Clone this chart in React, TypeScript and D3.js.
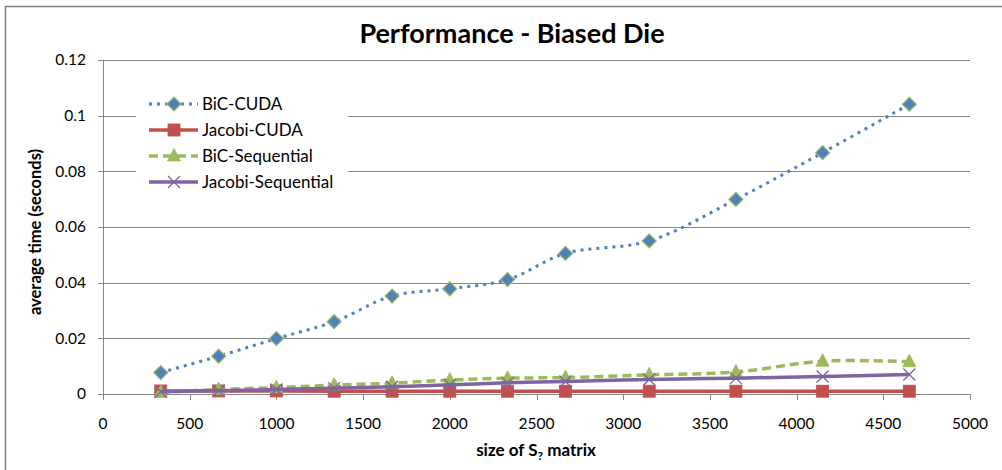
import React from "react";
import * as d3 from "d3";

const sizes = [333, 667, 1000, 1333, 1667, 2000, 2333, 2667, 3150, 3650, 4150, 4650];
const bicCuda = [0.0077, 0.0136, 0.0199, 0.026, 0.0352, 0.0378, 0.0411, 0.0505, 0.055, 0.0699, 0.0867, 0.1041];
const jacobiCuda = [0.0011, 0.0011, 0.0011, 0.001, 0.001, 0.001, 0.001, 0.001, 0.001, 0.001, 0.001, 0.001];
const bicSeq = [0.0006, 0.0016, 0.0023, 0.0032, 0.0039, 0.005, 0.0057, 0.0059, 0.0069, 0.0079, 0.0118, 0.0116];
const jacobiSeq = [0.0008, 0.0012, 0.0016, 0.0021, 0.0026, 0.0033, 0.004, 0.0045, 0.0052, 0.0057, 0.0063, 0.007];
const xTicks = [0, 500, 1000, 1500, 2000, 2500, 3000, 3500, 4000, 4500, 5000];
const yTicks = [0, 0.02, 0.04, 0.06, 0.08, 0.1, 0.12];
const seriesNames = ["BiC-CUDA", "Jacobi-CUDA", "BiC-Sequential", "Jacobi-Sequential"];

const FONT = "Lato, 'Open Sans', sans-serif";
const GRID = "#888888";

type Pt = [number, number];

export default function App() {
  const x = d3.scaleLinear().domain([0, 5000]).range([103, 970]);
  const y = d3.scaleLinear().domain([0, 0.12]).range([394, 60]);

  const smooth = d3.line<Pt>().x((d) => x(d[0])).y((d) => y(d[1])).curve(d3.curveCatmullRom.alpha(0.5));
  const straight = d3.line<Pt>().x((d) => x(d[0])).y((d) => y(d[1]));

  const pts = (vals: number[]): Pt[] => sizes.map((s, i) => [s, vals[i]] as Pt);

  const diamond = (cx: number, cy: number, key: string) => (
    <path key={key} d={`M${cx},${cy - 7}L${cx + 7},${cy}L${cx},${cy + 7}L${cx - 7},${cy}Z`} fill="#4F81BD" stroke="#9BBB59" strokeWidth={1.2} />
  );
  const square = (cx: number, cy: number, key: string) => (
    <rect key={key} x={cx - 6} y={cy - 6} width={12} height={12} fill="#C0504D" stroke="#C0504D" strokeWidth={0.8} />
  );
  const triangle = (cx: number, cy: number, key: string) => (
    <path key={key} d={`M${cx},${cy - 7.5}L${cx + 6.5},${cy + 5}L${cx - 6.5},${cy + 5}Z`} fill="#9BBB59" stroke="#9BBB59" strokeWidth={0.8} />
  );
  const cross = (cx: number, cy: number, key: string) => (
    <path key={key} d={`M${cx - 6},${cy - 6}L${cx + 6},${cy + 6}M${cx - 6},${cy + 6}L${cx + 6},${cy - 6}`} stroke="#8064A2" strokeWidth={1.3} fill="none" />
  );

  const legendRows = [
    { name: seriesNames[0], stroke: "#4F81BD", dash: "3,5", width: 3, marker: diamond },
    { name: seriesNames[1], stroke: "#C0504D", dash: undefined, width: 3.5, marker: square },
    { name: seriesNames[2], stroke: "#9BBB59", dash: "9,5", width: 3.5, marker: triangle },
    { name: seriesNames[3], stroke: "#8064A2", dash: undefined, width: 3.5, marker: cross },
  ];

  return (
    <svg width={1002} height={470} style={{ position: "absolute", left: 0, top: 0, background: "#fff" }} fontFamily={FONT}>
      <rect x={0} y={0} width={1002} height={470} fill="#fff" />
      <rect x={5.5} y={6.5} width={1100} height={600} fill="#fff" stroke="#7f7f7f" strokeWidth={1.5} />

      {/* gridlines */}
      {yTicks.map((t) => (
        <g key={"g" + t}>
          <line x1={x(0)} x2={x(5000)} y1={Math.round(y(t)) + 0.5} y2={Math.round(y(t)) + 0.5} stroke={GRID} strokeWidth={1} />
          <line x1={x(0) - 5} x2={x(0)} y1={Math.round(y(t)) + 0.5} y2={Math.round(y(t)) + 0.5} stroke={GRID} strokeWidth={1} />
          <text x={86} y={y(t)} dy="0.35em" textAnchor="end" fontSize={15.5} fill="#000">{t}</text>
        </g>
      ))}
      <line x1={Math.round(x(0)) + 0.5} x2={Math.round(x(0)) + 0.5} y1={y(0.12)} y2={y(0)} stroke={GRID} strokeWidth={1} />
      {xTicks.map((t) => (
        <g key={"x" + t}>
          <line x1={Math.round(x(t)) + 0.5} x2={Math.round(x(t)) + 0.5} y1={y(0)} y2={y(0) + 6} stroke={GRID} strokeWidth={1} />
          <text x={x(t)} y={429} textAnchor="middle" fontSize={15.5} fill="#000">{t}</text>
        </g>
      ))}

      {/* axis titles */}
      <text x={512} y={43} textAnchor="middle" fontSize={27} fontWeight="bold" fill="#000">Performance - Biased Die</text>
      <text transform={`translate(41,232) rotate(-90)`} textAnchor="middle" fontSize={16.5} fontWeight="bold" fill="#000">average time (seconds)</text>
      <text x={536} y={456} textAnchor="middle" fontSize={17} fontWeight="bold" fill="#000">
        size of S<tspan fontSize={12} dy={4}>?</tspan><tspan dy={-4}> matrix</tspan>
      </text>

      {/* legend background */}
      <rect x={136} y={90} width={212} height={108} fill="#fff" />

      {/* series */}
      <path d={smooth(pts(bicCuda)) || ""} fill="none" stroke="#4F81BD" strokeWidth={3} strokeDasharray="3,5" />
      {pts(bicCuda).map((p, i) => diamond(x(p[0]), y(p[1]), "d" + i))}
      <path d={straight(pts(jacobiCuda)) || ""} fill="none" stroke="#C0504D" strokeWidth={3.5} />
      {pts(jacobiCuda).map((p, i) => square(x(p[0]), y(p[1]), "s" + i))}
      <path d={smooth(pts(bicSeq)) || ""} fill="none" stroke="#9BBB59" strokeWidth={3.5} strokeDasharray="9,5" />
      {pts(bicSeq).map((p, i) => triangle(x(p[0]), y(p[1]), "t" + i))}
      <path d={smooth(pts(jacobiSeq)) || ""} fill="none" stroke="#8064A2" strokeWidth={3.5} />
      {pts(jacobiSeq).map((p, i) => cross(x(p[0]), y(p[1]), "c" + i))}

      {/* legend */}
      {legendRows.map((r, i) => {
        const ly = 104 + i * 26;
        return (
          <g key={"l" + i}>
            <line x1={149} x2={198} y1={ly} y2={ly} stroke={r.stroke} strokeWidth={r.width} strokeDasharray={r.dash} />
            {r.marker(174, ly, "lm" + i)}
            <text x={202} y={ly} dy="0.35em" fontSize={17} fill="#000">{r.name}</text>
          </g>
        );
      })}
    </svg>
  );
}
